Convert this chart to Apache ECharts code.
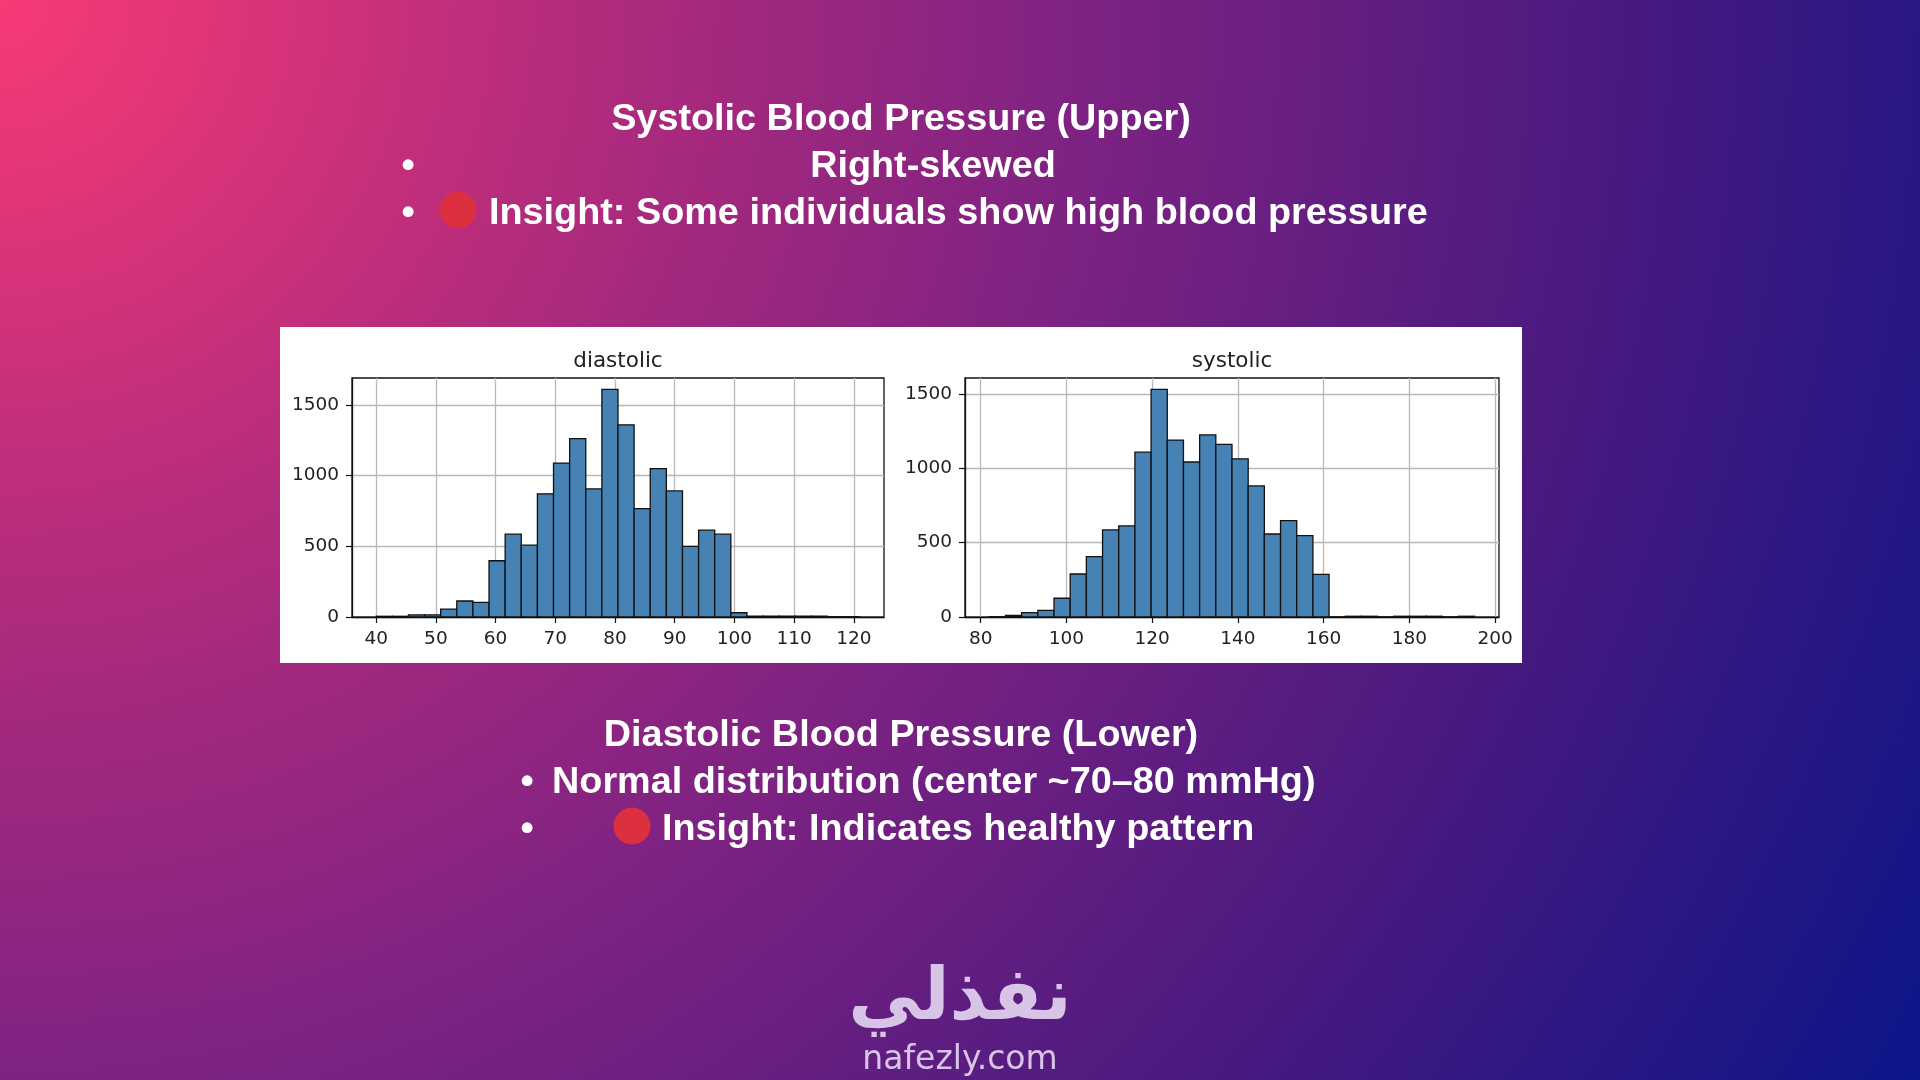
<!DOCTYPE html>
<html><head><meta charset="utf-8">
<script src="https://cdn.jsdelivr.net/npm/echarts@6/dist/echarts.min.js"></script>
<style>
html,body{margin:0;padding:0;width:1920px;height:1080px;overflow:hidden;}
body{background: radial-gradient(circle farthest-corner at 0 0, #f83a76 0%, #b52c7c 25%, #7c2282 50%, #45197f 75%, #0b1589 100%);}
#chart{width:1920px;height:1080px;}
</style></head><body><div id="chart"></div>
<script>
// ---- data ----
const diastolicRange = [40, 121];          // histogram data min / max (30 bins)
const diastolicCounts = [5, 5, 15, 15, 56, 113, 103, 398, 586, 508, 871, 1089, 1261, 906, 1610, 1359, 767, 1049, 892, 499, 614, 586, 30, 6, 6, 6, 6, 6, 2, 2];
const systolicRange = [82, 195.25];
const systolicCounts = [2, 10, 29, 45, 126, 289, 406, 585, 612, 1108, 1530, 1189, 1042, 1224, 1160, 1063, 881, 558, 648, 547, 287, 0, 5, 5, 0, 5, 5, 5, 0, 5];
const diastolicTicks = [40, 50, 60, 70, 80, 90, 100, 110, 120];
const systolicTicks = [80, 100, 120, 140, 160, 180, 200];
const countTicks = [0, 500, 1000, 1500];
const subplotTitles = ['diastolic', 'systolic'];
const topLines = ['Systolic Blood Pressure (Upper)', 'Right-skewed', 'Insight: Some individuals show high blood pressure'];
const bottomLines = ['Diastolic Blood Pressure (Lower)', 'Normal distribution (center ~70\u201380 mmHg)', 'Insight: Indicates healthy pattern'];
const logoArabic = 'نفذلي';
const logoLatin = 'nafezly.com';

// matplotlib-style bins and limits
function makeBins(range, counts) {
  const w = (range[1] - range[0]) / counts.length;
  return counts.map((c, i) => [range[0] + i * w, range[0] + (i + 1) * w, c]);
}
function xLim(range) { const m = (range[1] - range[0]) * 0.05; return [range[0] - m, range[1] + m]; }
function yMax(counts) { return Math.max.apply(null, counts) * 1.05; }

const chart = echarts.init(document.getElementById('chart'));

function renderHist(params, api) {
  const s = api.coord([api.value(0), api.value(2)]);
  const e = api.coord([api.value(1), 0]);
  return {
    type: 'rect',
    shape: { x: s[0], y: s[1], width: e[0] - s[0], height: e[1] - s[1] },
    style: { fill: '#4682b4', stroke: '#111', lineWidth: 1.3 }
  };
}

const tickFont = { fontFamily: 'DejaVu Sans', fontSize: 18.5, color: '#222', formatter: function (v) { return String(Math.round(v)); } };
function xAxisDef(grid, lim, ticks) {
  return {
    type: 'value', gridIndex: grid, min: lim[0], max: lim[1],
    axisLine: { show: true, onZero: false, lineStyle: { color: '#111', width: 1.3 } },
    axisTick: { show: true, inside: false, length: 6, customValues: ticks, lineStyle: { color: '#111', width: 1.2 } },
    axisLabel: Object.assign({ customValues: ticks, margin: 13 }, tickFont),
    splitLine: { show: true, lineStyle: { color: '#b8b8b8', width: 1.3 } }
  };
}
function yAxisDef(grid, max) {
  return {
    type: 'value', gridIndex: grid, min: 0, max: max,
    axisLine: { show: true, onZero: false, lineStyle: { color: '#111', width: 1.3 } },
    axisTick: { show: true, length: 6, customValues: countTicks, lineStyle: { color: '#111', width: 1.2 } },
    axisLabel: Object.assign({ customValues: countTicks, margin: 13 }, tickFont),
    splitLine: { show: true, lineStyle: { color: '#b8b8b8', width: 1.3 } }
  };
}

const white = '#fff';
function txt(text, x, y, size, align, extra) {
  return Object.assign({
    type: 'text', x: x, y: y, z: 10,
    style: { text: text, fill: white, font: 'bold ' + size + 'px "Liberation Sans Narrow", "Liberation Sans", sans-serif',
      textAlign: align, textVerticalAlign: 'middle' }
  }, extra || {});
}

const option = {
  backgroundColor: 'transparent',
  animation: false,
  title: [
    { text: subplotTitles[0], left: 613, top: 356, textAlign: 'center', textVerticalAlign: 'middle',
      textStyle: { fontFamily: 'DejaVu Sans', fontWeight: 'normal', fontSize: 21.5, color: '#222' } },
    { text: subplotTitles[1], left: 1227, top: 356, textAlign: 'center', textVerticalAlign: 'middle',
      textStyle: { fontFamily: 'DejaVu Sans', fontWeight: 'normal', fontSize: 21.5, color: '#222' } }
  ],
  grid: [
    { left: 352, top: 378, width: 532, height: 239, show: true, backgroundColor: '#fff', borderColor: '#111', borderWidth: 1.3 },
    { left: 965, top: 378, width: 534, height: 239, show: true, backgroundColor: '#fff', borderColor: '#111', borderWidth: 1.3 }
  ],
  xAxis: [xAxisDef(0, xLim(diastolicRange), diastolicTicks), xAxisDef(1, xLim(systolicRange), systolicTicks)],
  yAxis: [yAxisDef(0, yMax(diastolicCounts)), yAxisDef(1, yMax(systolicCounts))],
  series: [
    { type: 'custom', xAxisIndex: 0, yAxisIndex: 0, renderItem: renderHist, encode: { x: [0, 1], y: 2 },
      data: makeBins(diastolicRange, diastolicCounts), z: 3 },
    { type: 'custom', xAxisIndex: 1, yAxisIndex: 1, renderItem: renderHist, encode: { x: [0, 1], y: 2 },
      data: makeBins(systolicRange, systolicCounts), z: 3 }
  ],
  graphic: [
    { type: 'rect', z: -10, zlevel: 0, shape: { x: 280, y: 327, width: 1242, height: 336 }, style: { fill: '#fff' } },
    txt(topLines[0], 901, 120, 37.8, 'center'),
    txt('\u2022', 408, 167, 37.8, 'center'),
    txt(topLines[1], 933, 167, 37.8, 'center'),
    txt('\u2022', 408, 214, 37.8, 'center'),
    { type: 'circle', z: 10, shape: { cx: 458, cy: 210, r: 18.5 }, style: { fill: '#dc2f40' } },
    txt(topLines[2], 489, 214, 37.8, 'left'),
    txt(bottomLines[0], 901, 736, 37.8, 'center'),
    txt('\u2022', 527, 783, 37.8, 'center'),
    txt(bottomLines[1], 552, 783, 37.8, 'left'),
    txt('\u2022', 527, 830, 37.8, 'center'),
    { type: 'circle', z: 10, shape: { cx: 632, cy: 826, r: 18.5 }, style: { fill: '#dc2f40' } },
    txt(bottomLines[2], 662, 830, 37.8, 'left'),
    { type: 'text', x: 960, y: 1000, z: 10, style: { text: logoArabic, fill: '#d8c4e6',
      font: 'bold 73px "DejaVu Sans", sans-serif', textAlign: 'center', textVerticalAlign: 'middle' } },
    { type: 'text', x: 960, y: 1060, z: 10, style: { text: logoLatin, fill: '#d8c4e6',
      font: '33px "DejaVu Sans", sans-serif', textAlign: 'center', textVerticalAlign: 'middle' } }
  ]
};
chart.setOption(option);
</script></body></html>
